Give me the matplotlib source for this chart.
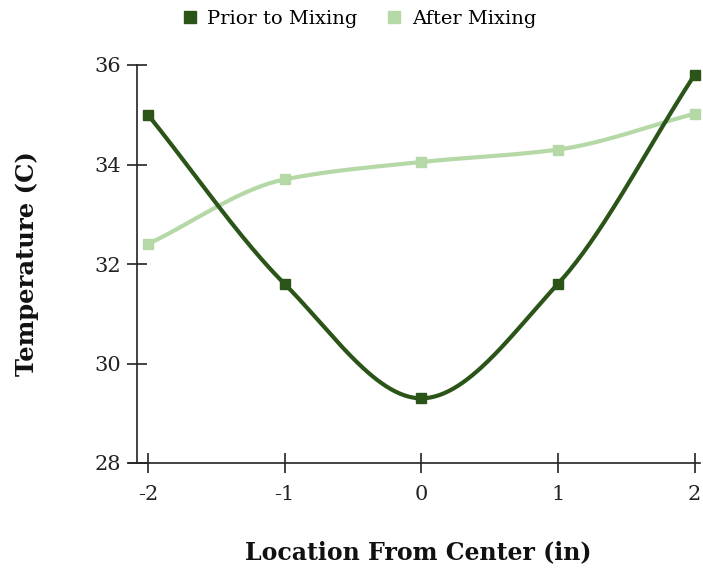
import numpy as np
import matplotlib
matplotlib.use("Agg")
import matplotlib.pyplot as plt
from matplotlib.lines import Line2D

# Temperature readings across the container, before and after mixing
locations = [-2, -1, 0, 1, 2]
prior_to_mixing = [35.0, 31.6, 29.3, 31.6, 35.8]
after_mixing = [32.4, 33.7, 34.05, 34.3, 35.02]
x_ticks = [-2, -1, 0, 1, 2]
y_ticks = [28, 30, 32, 34, 36]

DARK = "#2b5518"
LIGHT = "#b5d9a6"
FONT = "DejaVu Serif"


def monotone_curve(x, y, n=60):
    """Fritsch-Carlson monotone cubic through the points."""
    x = np.asarray(x, float)
    y = np.asarray(y, float)
    h = np.diff(x)
    d = np.diff(y) / h
    m = np.zeros_like(y)
    m[0], m[-1] = d[0], d[-1]
    for i in range(1, len(y) - 1):
        if d[i - 1] * d[i] <= 0:
            m[i] = 0.0
        else:
            w1 = 2 * h[i] + h[i - 1]
            w2 = h[i] + 2 * h[i - 1]
            m[i] = (w1 + w2) / (w1 / d[i - 1] + w2 / d[i])
    xs, ys = [], []
    for i in range(len(h)):
        t = np.linspace(0, 1, n)
        h00 = 2 * t**3 - 3 * t**2 + 1
        h10 = t**3 - 2 * t**2 + t
        h01 = -2 * t**3 + 3 * t**2
        h11 = t**3 - t**2
        xs.append(x[i] + t * h[i])
        ys.append(h00 * y[i] + h10 * h[i] * m[i] + h01 * y[i + 1] + h11 * h[i] * m[i + 1])
    return np.concatenate(xs), np.concatenate(ys)


fig = plt.figure(figsize=(7.03, 5.69), dpi=100)
ax = fig.add_axes([137 / 703, 106 / 569, 563 / 703, 398 / 569])

for vals, color in [(after_mixing, LIGHT), (prior_to_mixing, DARK)]:
    cx, cy = monotone_curve(locations, vals)
    ax.plot(cx, cy, color=color, lw=3, solid_capstyle="round", zorder=3, clip_on=False)
    ax.plot(locations, vals, ls="none", marker="s", ms=7.5, color=color, zorder=4, clip_on=False)

ax.set_xlim(-2.08, 2.04)
ax.set_ylim(28, 36)
ax.set_xticks(x_ticks)
ax.set_xticklabels([str(v) for v in x_ticks])
ax.set_yticks(y_ticks)
ax.set_yticklabels([str(v) for v in y_ticks])

for side in ["top", "right"]:
    ax.spines[side].set_visible(False)
for side in ["left", "bottom"]:
    ax.spines[side].set_linewidth(1.2)
    ax.spines[side].set_color("#222222")
ax.spines["bottom"].set_bounds(-2.14, 2.04)

ax.tick_params(axis="x", direction="inout", length=14, width=1.2, color="#222222",
               pad=9, labelsize=15, labelcolor="#222222")
ax.tick_params(axis="y", direction="inout", length=15, width=1.2, color="#222222",
               pad=4, labelsize=15, labelcolor="#222222")
for lab in ax.get_xticklabels() + ax.get_yticklabels():
    lab.set_family(FONT)

ax.set_xlabel("Location From Center (in)", fontsize=17, fontweight="bold",
              family=FONT, labelpad=26, color="#111111")
ax.set_ylabel("Temperature (C)", fontsize=17.5, fontweight="bold",
              family=FONT, labelpad=40, color="#111111")

handles = [
    Line2D([], [], ls="none", marker="s", ms=8, color=DARK, label="Prior to Mixing"),
    Line2D([], [], ls="none", marker="s", ms=8, color=LIGHT, label="After Mixing"),
]
fig.legend(handles=handles, loc="center", bbox_to_anchor=(358 / 703, 1 - 19 / 569),
           ncol=2, frameon=False, prop={"family": FONT, "size": 14},
           handletextpad=0.4, columnspacing=1.4, handlelength=1.0)

fig.savefig("out.png", dpi=100)
